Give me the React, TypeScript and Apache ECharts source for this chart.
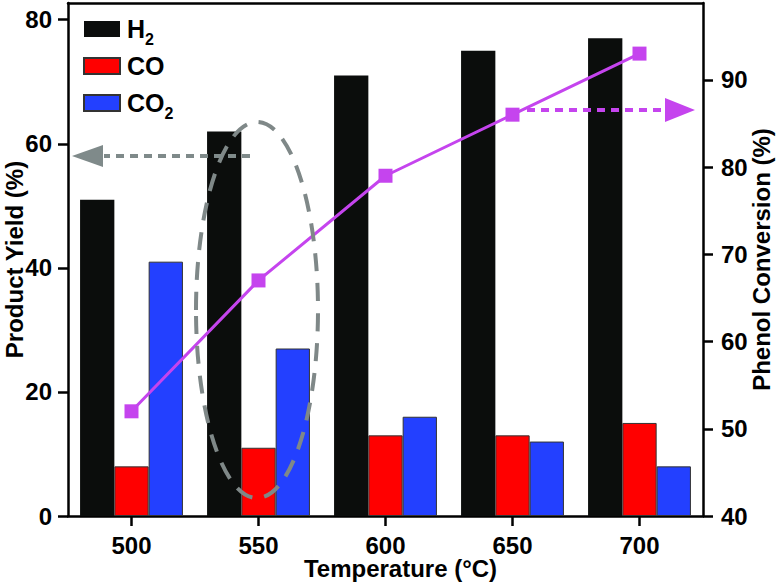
import React, { useEffect, useRef } from "react";
import * as echarts from "echarts";

const temperatures = ["500", "550", "600", "650", "700"];
const h2Yield = [51, 62, 71, 75, 77];
const coYield = [8, 11, 13, 13, 15];
const co2Yield = [41, 27, 16, 12, 8];
const phenolConversion = [52, 67, 79, 86, 93];
const leftTicks = [0, 20, 40, 60, 80];
const rightTicks = [40, 50, 60, 70, 80, 90];

const FONT = "'Liberation Sans', Arial, Helvetica, sans-serif";

export default function App() {
  const ref = useRef<HTMLDivElement>(null);
  useEffect(() => {
    if (!ref.current) return;
    const chart = echarts.init(ref.current, null, { renderer: "svg" });
    const axisLine = { show: true, lineStyle: { color: "#000", width: 2.5 } };
    const labelStyle = { color: "#000", fontSize: 24, fontWeight: "bold" as const, fontFamily: FONT };
    chart.setOption({
      animation: false,
      backgroundColor: "#fff",
      grid: { left: 68, right: 73, top: 3, bottom: 68, containLabel: false, outerBoundsMode: "none" },
      legend: {
        orient: "vertical",
        left: 83,
        top: 11,
        padding: 0,
        itemWidth: 36,
        itemHeight: 16,
        itemGap: 1,
        icon: "rect",
        data: ["H2", "CO", "CO2"],
        formatter: (name: string) =>
          name === "H2" ? "H{s|2}" : name === "CO2" ? "CO{s|2}" : "CO",
        textStyle: {
          color: "#000",
          fontSize: 25,
          lineHeight: 36,
          fontWeight: "bold",
          fontFamily: FONT,
          padding: [0, 0, 0, 2],
          rich: {
            s: { fontSize: 16, fontWeight: "bold", fontFamily: FONT, color: "#000", lineHeight: 36, verticalAlign: "bottom" },
          },
        },
      },
      xAxis: [
        {
          type: "category",
          data: temperatures,
          boundaryGap: true,
          axisLine,
          axisTick: { show: true, alignWithLabel: true, inside: false, length: 10, lineStyle: { color: "#000", width: 2.5 } },
          axisLabel: { ...labelStyle, lineHeight: 20, margin: 19 },
          name: "Temperature (°C)",
          nameLocation: "middle",
          nameGap: 41,
          nameMoveOverlap: false,
          nameTextStyle: {
            ...labelStyle,
            lineHeight: 22,
            padding: [0, 0, 0, 30],
          },
        },
        {
          type: "category",
          data: temperatures,
          position: "top",
          axisLine,
          axisTick: { show: false },
          axisLabel: { show: false },
        },
      ],
      yAxis: [
        {
          type: "value",
          min: 0,
          max: 82.7,
          interval: 20,
          position: "left",
          splitLine: { show: false },
          axisLine,
          axisTick: { show: true, inside: false, length: 10, lineStyle: { color: "#000", width: 2.5 }, customValues: leftTicks },
          axisLabel: { ...labelStyle, margin: 16, customValues: leftTicks },
          name: "Product Yield (%)",
          nameLocation: "middle",
          nameRotate: 90,
          nameGap: 42,
          nameMoveOverlap: false,
          nameTextStyle: { ...labelStyle },
        },
        {
          type: "value",
          min: 40,
          max: 98.8,
          interval: 10,
          position: "right",
          splitLine: { show: false },
          axisLine,
          axisTick: { show: true, inside: false, length: 10, lineStyle: { color: "#000", width: 2.5 }, customValues: rightTicks },
          axisLabel: { ...labelStyle, margin: 18, customValues: rightTicks },
          name: "Phenol Conversion (%)",
          nameLocation: "middle",
          nameRotate: 90,
          nameGap: 46,
          nameMoveOverlap: false,
          nameTextStyle: { ...labelStyle },
        },
      ],
      series: [
        {
          name: "H2",
          type: "bar",
          data: h2Yield,
          barGap: "0%",
          barCategoryGap: "19%",
          itemStyle: { color: "#0b0d0c" },
        },
        {
          name: "CO",
          type: "bar",
          data: coYield,
          itemStyle: { color: "#ff0000", borderColor: "#333", borderWidth: 1 },
        },
        {
          name: "CO2",
          type: "bar",
          data: co2Yield,
          itemStyle: { color: "#2340ff", borderColor: "#333", borderWidth: 1 },
        },
        {
          name: "Phenol Conversion",
          type: "line",
          yAxisIndex: 1,
          data: phenolConversion,
          symbol: "rect",
          symbolSize: 14,
          z: 5,
          lineStyle: { color: "#c544ee", width: 3 },
          itemStyle: { color: "#c544ee" },
        },
      ],
      graphic: [
        {
          type: "ellipse",
          z: 100,
          shape: { cx: 257, cy: 310, rx: 61, ry: 188 },
          style: { fill: "none", stroke: "#7f8888", lineWidth: 4, lineDash: [18, 12] },
        },
        {
          type: "line",
          z: 100,
          shape: { x1: 250, y1: 156, x2: 104, y2: 156 },
          style: { stroke: "#7f8a8a", lineWidth: 4, lineDash: [8, 6] },
        },
        {
          type: "polygon",
          z: 100,
          shape: { points: [[72, 156], [103, 145], [103, 167]] },
          style: { fill: "#7f8a8a" },
        },
        {
          type: "line",
          z: 100,
          shape: { x1: 527, y1: 110, x2: 665, y2: 110 },
          style: { stroke: "#c544ee", lineWidth: 4, lineDash: [8, 6] },
        },
        {
          type: "polygon",
          z: 100,
          shape: { points: [[695, 110], [665, 98], [665, 122]] },
          style: { fill: "#c544ee" },
        },
      ],
    });
    return () => chart.dispose();
  }, []);
  return <div ref={ref} style={{ position: "absolute", left: 0, top: 0, width: 776, height: 584 }} />;
}
